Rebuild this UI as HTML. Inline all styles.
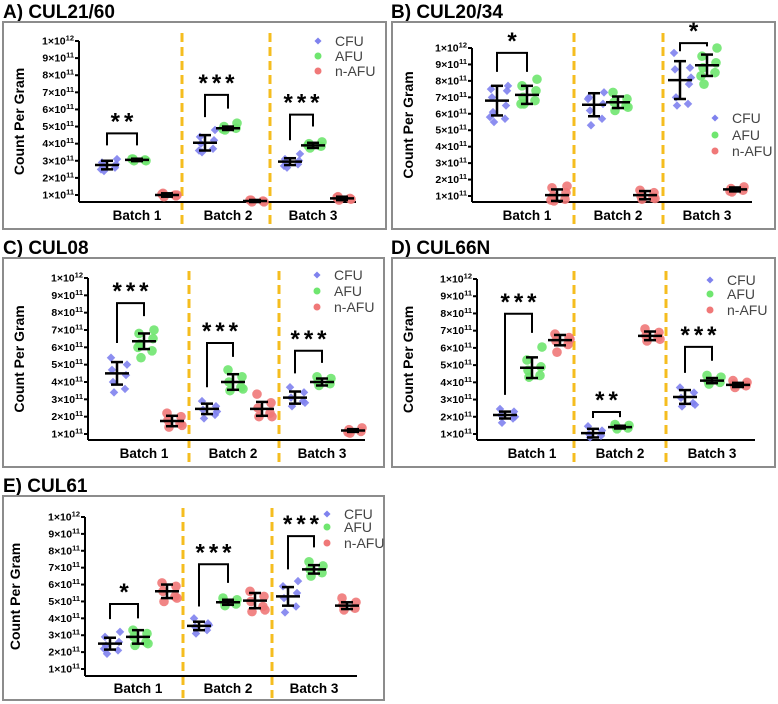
<!DOCTYPE html>
<html><head><meta charset="utf-8"><style>
html,body{margin:0;padding:0;background:#fff}
svg{display:block;font-family:"Liberation Sans",Arial,sans-serif}
</style></head><body>
<svg id="fig" width="778" height="704" viewBox="0 0 778 704"></svg>
<script>
// ---- data (values in units of 1e11 counts per gram) ----
const batches = ['Batch 1','Batch 2','Batch 3'];
const seriesNames = ['CFU','AFU','n-AFU'];
const yTickVals = [1,2,3,4,5,6,7,8,9,10];
const yTickExp = ['11','11','11','11','11','11','11','11','11','12'];
const yTickMant = ['1','2','3','4','5','6','7','8','9','1'];

// Panel A  means [batch][series], sds, points
const aMeans = [[2.75,3.05,1.0],[4.05,4.9,0.65],[2.95,3.9,0.8]];
const aSds = [[0.25,0.07,0.1],[0.45,0.1,0.06],[0.2,0.15,0.1]];
const aPts = [[[2.4,2.6,2.7,2.8,2.9,3.1,2.5],[3.0,3.05,3.1,3.0,3.1],[0.9,1.0,1.1,0.95,1.05,1.0]],
              [[3.5,3.7,4.0,4.2,4.4,4.8,3.6],[4.8,4.9,5.0,5.2,4.85],[0.6,0.65,0.7,0.6,0.7]],
              [[2.6,2.8,2.9,3.0,3.1,3.4,2.7],[3.75,3.85,4.0,4.1,3.9],[0.7,0.8,0.9,0.75,0.85]]];
const aBrackets = [[0,4.6,3.9,3.9,'**'],[1,6.85,5.55,6.05,'***'],[2,5.7,4.2,5.0,'***']];

// Panel B
const bMeans = [[6.8,7.15,1.05],[6.55,6.7,1.05],[8.05,8.95,1.4]];
const bSds = [[0.9,0.55,0.35],[0.7,0.35,0.25],[1.15,0.65,0.12]];
const bPts = [[[5.5,5.7,6.1,6.5,7.0,7.4,7.5,7.7,5.8],[6.6,6.8,7.0,7.4,7.7,8.1,6.6],[0.7,0.8,1.0,1.2,1.5,1.6,0.75]],
              [[5.3,5.7,6.2,6.6,7.0,7.3,6.9],[6.2,6.5,6.7,6.9,7.3,6.4],[0.8,0.9,1.0,1.2,1.35,0.85]],
              [[6.5,6.6,7.0,7.8,8.7,8.8,9.7,8.2],[7.8,8.5,8.8,9.1,9.5,10.0,8.3],[1.25,1.35,1.45,1.55,1.3]]];
const bBrackets = [[0,9.7,8.55,8.55,'*'],[2,10.3,9.8,10.1,'*']];

// Panel C
const cMeans = [[4.5,6.35,1.75],[2.45,4.0,2.45],[3.1,4.0,1.2]];
const cSds = [[0.65,0.45,0.3],[0.3,0.45,0.4],[0.35,0.2,0.08]];
const cPts = [[[3.4,3.6,4.0,4.4,4.7,5.0,5.4],[5.4,5.8,6.2,6.5,6.8,7.0,6.0],[1.4,1.6,1.8,2.0,2.2,1.5]],
              [[1.9,2.1,2.4,2.6,2.9,2.3],[3.5,3.7,4.0,4.3,4.7,3.6],[2.0,2.2,2.5,2.8,3.3,2.0]],
              [[2.6,2.9,3.1,3.4,3.7,2.8],[3.8,3.9,4.0,4.2,4.3],[1.05,1.15,1.25,1.35,1.1]]];
const cBrackets = [[0,8.55,6.25,7.8,'***'],[1,6.25,3.7,5.45,'***'],[2,5.8,4.5,5.1,'***']];

// Panel D
const dMeans = [[2.1,4.85,6.45],[1.05,1.4,6.7],[3.15,4.1,3.85]];
const dSds = [[0.2,0.6,0.3],[0.25,0.08,0.25],[0.4,0.15,0.12]];
const dPts = [[[1.65,1.9,2.1,2.3,2.45,2.0],[4.3,4.4,4.7,4.9,5.3,6.05],[5.75,6.2,6.4,6.6,6.8,6.5]],
              [[0.8,0.9,1.0,1.2,1.45],[1.3,1.35,1.45,1.5,1.55],[6.4,6.6,6.7,6.9,7.1,6.5]],
              [[2.6,2.8,3.1,3.4,3.7,2.7],[3.9,4.0,4.1,4.3,4.4],[3.7,3.8,3.9,4.0,4.1]]];
const dBrackets = [[0,7.98,3.27,6.87,'***'],[1,2.28,1.93,1.98,'**'],[2,6.06,4.55,5.25,'***']];

// Panel E
const eMeans = [[2.5,2.9,5.6],[3.55,4.95,5.05],[5.3,6.9,4.75]];
const eSds = [[0.35,0.4,0.4],[0.25,0.15,0.45],[0.55,0.25,0.2]];
const ePts = [[[1.9,2.1,2.4,2.6,2.9,3.2,2.2],[2.4,2.6,2.9,3.1,3.3,2.5],[5.0,5.3,5.6,5.9,6.1,5.2]],
              [[3.1,3.3,3.5,3.7,4.0,3.6],[4.75,4.85,5.0,5.1,5.2],[4.4,4.7,5.0,5.3,5.6,4.5]],
              [[4.35,4.7,5.2,5.5,5.9,6.2],[6.5,6.7,6.9,7.1,7.35],[4.5,4.6,4.8,4.95,5.2]]];
const eBrackets = [[0,4.85,3.95,4.0,'*'],[1,7.2,4.7,6.1,'***'],[2,8.87,6.9,8.2,'***']];

// ---- layout (pixels) ----
const panels = [
 {id:'a',title:'A) CUL21/60',tx:3,ty:18,box:[3,22,383,207],ax:79,y12:41,y11:195,base:202,xend:356,
  gx:[[107,137,167],[205,228,255],[290,313,342]],dash:[182,270],dashY:[33,226],lx:318,ly:[41,56,71],ylx:24,bl:220,
  means:aMeans,sds:aSds,pts:aPts,br:aBrackets},
 {id:'b',title:'B) CUL20/34',tx:391,ty:18,box:[392,22,383,207],ax:472,y12:48,y11:196,base:202,xend:752,
  gx:[[497,527,557],[594,618,645],[680,707,735]],dash:[574,663],dashY:[33,226],lx:715,ly:[118,135,151],ylx:413,bl:220,
  means:bMeans,sds:bSds,pts:bPts,br:bBrackets},
 {id:'c',title:'C) CUL08',tx:3,ty:254,box:[3,258,381,209],ax:88,y12:278,y11:434,base:440,xend:365,
  gx:[[117,144,172],[207,233,262],[295,322,353]],dash:[189,279],dashY:[271,464],lx:317,ly:[275,291,307],ylx:24,bl:458,
  means:cMeans,sds:cSds,pts:cPts,br:cBrackets},
 {id:'d',title:'D) CUL66N',tx:391,ty:254,box:[392,258,383,209],ax:477,y12:279,y11:434,base:440,xend:755,
  gx:[[505,532,560],[593,620,650],[685,712,738]],dash:[574,666],dashY:[271,464],lx:710,ly:[280,294,310],ylx:413,bl:458,
  means:dMeans,sds:dSds,pts:dPts,br:dBrackets},
 {id:'e',title:'E) CUL61',tx:3,ty:492,box:[3,496,381,204],ax:85,y12:517,y11:669,base:676,xend:357,
  gx:[[110,138,167],[199,228,255],[288,314,347]],dash:[183,272],dashY:[508,698],lx:327,ly:[514,527,543],ylx:20,bl:693,
  means:eMeans,sds:eSds,pts:ePts,br:eBrackets}
];
const colors = ['#7f82ee','#6fe66f','#f07878'];
const NS='http://www.w3.org/2000/svg';
const svg=document.getElementById('fig');
function mk(tag,attrs,parent){const e=document.createElementNS(NS,tag);for(const k in attrs)e.setAttribute(k,attrs[k]);(parent||svg).appendChild(e);return e;}

panels.forEach(p=>{
  const g=mk('g',{});
  
  
  const yS=v=>p.y11-(v-1)*(p.y11-p.y12)/9;
  const t=mk('text',{x:p.tx,y:p.ty,'font-size':19,'font-weight':'bold',fill:'#000'},g);
  t.textContent=p.title;
  
  
  const bx=mk('rect',{x:p.box[0],y:p.box[1],width:p.box[2],height:p.box[3],fill:'none',stroke:'#8c8c8c','stroke-width':2},g);
  
  
  p.dash.forEach(x=>{
    const l=mk('line',{x1:x,x2:x,y1:p.dashY[0],y2:p.dashY[1],stroke:'#f5bd1f','stroke-width':3,'stroke-dasharray':'9 5'},g);
    
    
  });
  const ya=mk('line',{x1:p.ax,x2:p.ax,y1:p.y12,y2:p.base,stroke:'#000','stroke-width':2},g);
  
  
  const xa=mk('line',{x1:p.ax,x2:p.xend,y1:p.base,y2:p.base,stroke:'#000','stroke-width':2},g);
  
  
  yTickVals.forEach((v,i)=>{
    const y=yS(v);
    mk('line',{x1:p.ax-4,x2:p.ax,y1:y,y2:y,stroke:'#000','stroke-width':2},g);
    const tl=mk('text',{x:p.ax-5,y:y+3.5,'font-size':10.5,'font-weight':'bold','text-anchor':'end',fill:'#000'},g);
    
    
    const s1=mk('tspan',{},tl);s1.textContent=yTickMant[i]+'×10';
    const s2=mk('tspan',{'font-size':7.5,dy:-4},tl);s2.textContent=yTickExp[i];
  });
  const yl=mk('text',{x:0,y:0,'font-size':14,'font-weight':'bold','text-anchor':'middle',transform:`translate(${p.ylx},${(p.y12+p.base)/2}) rotate(-90)`},g);
  yl.textContent='Count Per Gram';
  
  
  batches.forEach((b,bi)=>{
    const cx=p.gx[bi][1];
    const bt=mk('text',{x:cx,y:p.bl,'font-size':13.5,'font-weight':'bold','text-anchor':'middle'},g);
    bt.textContent=b;
    
    
    seriesNames.forEach((s,si)=>{
      const x0=p.gx[bi][si];
      const pts=p.pts[bi][si];
      pts.forEach((v,k)=>{
        const off=((k%2?1:-1)*(3+ (k*5)%9));
        const x=x0+off,y=yS(v);
        let m;
        if(si===0){m=mk('rect',{x:x-3,y:y-3,width:6,height:6,fill:colors[0],transform:`rotate(45 ${x} ${y})`,opacity:0.9},g);}
        else{m=mk('circle',{cx:x,cy:y,r:4.8,fill:colors[si],opacity:0.9},g);}
        
        
      });
      const mv=p.means[bi][si],sd=p.sds[bi][si];
      const ym=yS(mv),yt=yS(mv+sd),yb=yS(mv-sd);
      const eg=mk('g',{stroke:'#000','stroke-width':2.5,fill:'none'},g);
      
      
      mk('line',{x1:x0-12,x2:x0+12,y1:ym,y2:ym},eg);
      mk('line',{x1:x0,x2:x0,y1:yt,y2:yb},eg);
      mk('line',{x1:x0-6,x2:x0+6,y1:yt,y2:yt},eg);
      mk('line',{x1:x0-6,x2:x0+6,y1:yb,y2:yb},eg);
    });
  });
  p.br.forEach(br=>{
    const bi=br[0];const x1=p.gx[bi][0],x2=p.gx[bi][1];
    const yt=yS(br[1]);
    const pl=mk('polyline',{points:`${x1},${yS(br[2])} ${x1},${yt} ${x2},${yt} ${x2},${yS(br[3])}`,fill:'none',stroke:'#000','stroke-width':2},g);
    
    
    const st=mk('text',{x:(x1+x2)/2+2,y:yt-4,'font-size':24,'font-weight':'bold','text-anchor':'middle','letter-spacing':4},g);
    st.textContent=br[4];
    
    
  });
  seriesNames.forEach((s,si)=>{
    const y=p.ly[si];
    const lg=mk('g',{},g);
    
    
    if(si===0)mk('rect',{x:p.lx-2.5,y:y-2.5,width:5,height:5,fill:colors[0],transform:`rotate(45 ${p.lx} ${y})`},lg);
    else mk('circle',{cx:p.lx,cy:y,r:3.5,fill:colors[si]},lg);
    const lt=mk('text',{x:p.lx+17,y:y+5,'font-size':14,fill:'#444'},lg);
    lt.textContent=s;
  });
});
</script>
</body></html>
